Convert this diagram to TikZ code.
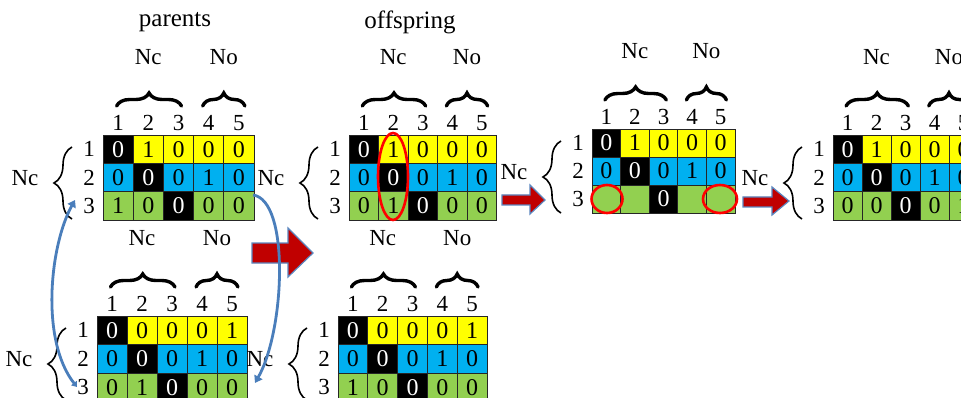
\documentclass[tikz,border=0pt]{standalone}
\usepackage{fontspec}
\setmainfont{Liberation Serif}
\usetikzlibrary{decorations.pathreplacing,arrows.meta,shapes.geometric}
\definecolor{cyel}{HTML}{FFFF00}
\definecolor{cblu}{HTML}{00B0F0}
\definecolor{cgrn}{HTML}{92D050}
\definecolor{arrred}{HTML}{C00000}
\definecolor{arredge}{HTML}{5B87BF}
\definecolor{curveblue}{HTML}{4A7EBB}
\definecolor{circred}{HTML}{FF0000}
\tikzset{
 lbl/.style={font=\fontsize{23}{25}\selectfont, inner sep=0pt},
 ttl/.style={font=\fontsize{25}{27}\selectfont, inner sep=0pt},
 cell/.style={draw=black!85, line width=0.7pt, inner sep=0pt, font=\fontsize{24}{26}\selectfont},
 hbrace/.style={decorate, decoration={brace, amplitude=13pt}, line width=3.4pt, line cap=round},
 vbrace/.style={decorate, decoration={brace, amplitude=18pt}, line width=1.6pt},
 blockarrow/.style={fill=arrred, draw=arredge, line width=1.2pt, line join=miter},
 swapcurve/.style={draw=curveblue, line width=2.8pt},
 ring/.style={draw=circred, line width=2.6pt, ellipse, inner sep=0pt},
}
\newcommand\drawmat[8]{%
  \foreach \rowvals [count=\r] in {{#6},{#7},{#8}} {
    \ifcase\r\or\def\rc{cyel}\or\def\rc{cblu}\or\def\rc{cgrn}\fi
    \foreach \v [count=\c] in \rowvals {
      \ifnum\c=\r \def\fc{black}\def\tc{white}\else\let\fc\rc\def\tc{black}\fi
      \node[cell, fill=\fc, text=\tc, minimum width=#4pt, minimum height=#5pt]
        (#1-\r-\c) at ({#2+(\c-0.5)*#4},{#3+(\r-0.5)*#5}) {\v};
    }
    \node[lbl] (#1-row\r) at ({#2-14},{#3+(\r-0.5)*#5}) {\r};
  }
  \foreach \c in {1,...,5} {
    \node[lbl] (#1-col\c) at ({#2+(\c-0.5)*#4},{#3-12}) {\c};
  }
  \draw[hbrace] ({#2+0.45*#4},{#3-29}) -- ({#2+2.6*#4},{#3-29});
  \draw[hbrace] ({#2+3.3*#4},{#3-29}) -- ({#2+4.7*#4},{#3-29});
  \node[lbl] (#1-topnc) at ({#2+1.5*#4},{#3-78}) {Nc};
  \node[lbl] (#1-topno) at ({#2+4*#4},{#3-78}) {No};
  \draw[vbrace] ({#2-31},{#3+84}) -- ({#2-31},{#3+12});
  \node[lbl] (#1-leftnc) at ({#2-78},{#3+43}) {Nc};
}
\begin{document}
\begin{tikzpicture}[x=1pt,y=-1pt]
\useasboundingbox[fill=white] (0,0) rectangle (961,398);

\node[ttl] (tparents) at (175,22) {parents};
\node[ttl] (toffspring) at (410,22) {offspring};

\drawmat{pa}{103}{135}{30.2}{28.3}{0,1,0,0,0}{0,0,0,1,0}{1,0,0,0,0}
\drawmat{of}{349}{135}{29.5}{28.3}{0,1,0,0,0}{0,0,0,1,0}{0,1,0,0,0}
\drawmat{mu}{592}{129}{28.6}{28}{0,1,0,0,0}{0,0,0,1,0}{{},{},0,{},{}}
\drawmat{re}{833}{135}{29}{28.3}{0,1,0,0,0}{0,0,0,1,0}{0,0,0,0,1}
\drawmat{pb}{97}{316}{30}{28.5}{0,0,0,0,1}{0,0,0,1,0}{0,1,0,0,0}
\drawmat{ob}{338}{316}{29.8}{28.5}{0,0,0,0,1}{0,0,0,1,0}{1,0,0,0,0}

% red rings
\node[ring, minimum width=30pt, minimum height=87pt] (ring1) at (393,176.5) {};
\node[ring, minimum width=31pt, minimum height=28pt] (ring2) at (607,199) {};
\node[ring, minimum width=34pt, minimum height=28pt] (ring3) at (720,199) {};

% block arrows
\path[blockarrow] (252,243) -- (288,243) -- (288,228) -- (313,253) -- (288,277) -- (288,263) -- (252,263) -- cycle;
\path[blockarrow] (502,195) -- (530,195) -- (530,185) -- (545,200) -- (530,214) -- (530,205) -- (502,205) -- cycle;
\path[blockarrow] (743,197) -- (772,197) -- (772,187) -- (789,201) -- (772,215) -- (772,207) -- (743,207) -- cycle;

% swap curves
\coordinate (la) at (75,200);
\coordinate (lb) at (77,387);
\coordinate (ra) at (253,195);
\coordinate (rb) at (255,383);
\draw[swapcurve, {Triangle[length=7pt,width=9pt]}-{Triangle[length=5pt,width=7pt]}] (la) .. controls (50,245) and (40,340) .. (lb);
\draw[swapcurve, -{Triangle[length=7pt,width=9pt]}] (ra) .. controls (290,200) and (285,330) .. (rb);
\end{tikzpicture}
\end{document}
